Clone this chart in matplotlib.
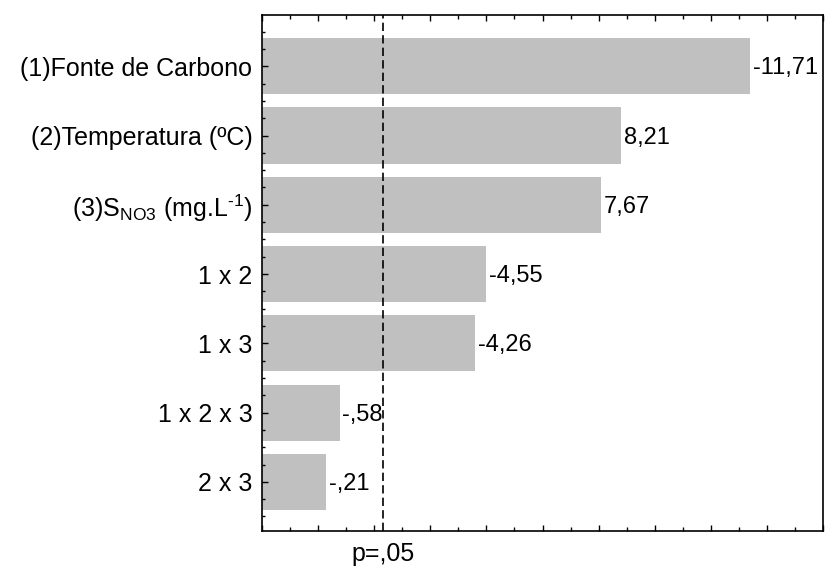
import numpy as np
import matplotlib
matplotlib.use("Agg")
import matplotlib.pyplot as plt
import matplotlib.transforms as mtransforms
from matplotlib.ticker import MultipleLocator

plt.rcParams['font.family'] = ['Liberation Sans', 'DejaVu Sans']
plt.rcParams['mathtext.fontset'] = 'custom'
plt.rcParams['mathtext.rm'] = 'Liberation Sans'
plt.rcParams['mathtext.it'] = 'Liberation Sans:italic'

# standardized effects (Pareto chart)
factors = ["(1)Fonte de Carbono", "(2)Temperatura (ºC)",
           r"(3)S$_{\mathrm{NO3}}$ (mg.L$^{\text{-1}}$)",
           "1 x 2", "1 x 3", "1 x 2 x 3", "2 x 3"]
effects = [-11.71, 8.21, 7.67, -4.55, -4.26, -0.58, -0.21]
p_crit = 1.76
x_min, x_max = -1.52, 13.68


def fmt(v):
    s = f"{v:.2f}".replace('.', ',')
    return s.replace("0,", ",", 1) if abs(v) < 1 else s


fig = plt.figure(figsize=(8.25, 5.7), dpi=100)
ax = fig.add_axes([262/825, 1 - 531/570, (823-262)/825, (531-15)/570])

ypos = np.arange(len(factors))
lengths = np.abs(effects)
ax.barh(ypos, lengths - x_min, left=x_min, height=0.81, color='#c0c0c0', zorder=1)

for y, L, v in zip(ypos, lengths, effects):
    ax.annotate(fmt(v), (L, y), xytext=(2, -1.5), textcoords='offset points',
                ha='left', va='center', fontsize=17, zorder=3)

ax.axvline(p_crit, color='black', lw=1.2, linestyle=(0, (5, 2.5)), zorder=4)
trans = mtransforms.blended_transform_factory(ax.transData, ax.transAxes)
ax.text(p_crit, -0.058, "p=,05", transform=trans, ha='center', va='baseline', fontsize=18)

ax.set_xlim(x_min, x_max)
ax.set_ylim(len(factors) - 1 + 0.71, -0.74)

ax.xaxis.set_major_locator(MultipleLocator(1.52))
ax.xaxis.set_minor_locator(MultipleLocator(0.76))
ax.set_xticklabels([])
ax.tick_params(axis='x', which='both', direction='in', top=True, bottom=True,
               labelbottom=False)
ax.tick_params(axis='x', which='major', length=4, width=1)
ax.tick_params(axis='x', which='minor', length=3, width=1)

ax.set_yticks(ypos)
ax.set_yticklabels(factors, fontsize=18)
ax.yaxis.set_minor_locator(MultipleLocator(0.25))
ax.tick_params(axis='y', which='major', direction='in', length=4, width=1, pad=7)
ax.tick_params(axis='y', which='minor', direction='in', length=2, width=1)

for sp in ax.spines.values():
    sp.set_linewidth(1.2)

fig.savefig("out.png", dpi=100)
